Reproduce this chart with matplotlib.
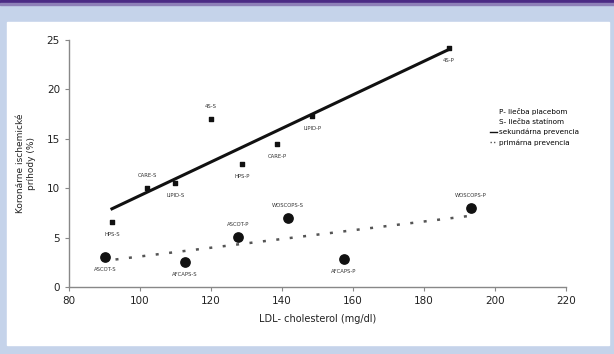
import numpy as np
import matplotlib
matplotlib.use('Agg')
import matplotlib.pyplot as plt
from matplotlib.lines import Line2D

# secondary prevention (small squares, solid trend)
sec_names = ['4S-P', '4S-S', 'LIPID-P', 'CARE-P', 'HPS-P', 'LIPID-S', 'CARE-S', 'HPS-S']
sec_ldl = [187, 120, 148.5, 138.6, 128.7, 109.9, 102, 92.1]
sec_events = [24.2, 17.0, 17.3, 14.5, 12.5, 10.5, 10.0, 6.6]
sec_pos = ['below', 'above', 'below', 'below', 'below', 'below', 'above', 'below']

# primary prevention (large dots, dotted trend)
pri_names = ['ASCOT-S', 'AFCAPS-S', 'ASCOT-P', 'WOSCOPS-S', 'AFCAPS-P', 'WOSCOPS-P']
pri_ldl = [90.1, 112.7, 127.6, 141.7, 157.5, 193.2]
pri_events = [3.0, 2.5, 5.1, 7.0, 2.8, 8.0]
pri_pos = ['below', 'below', 'above', 'above', 'below', 'above']

x_ticks = [80, 100, 120, 140, 160, 180, 200, 220]
y_ticks = [0, 5, 10, 15, 20, 25]

fig = plt.figure(figsize=(6.14, 3.54), dpi=100)
fig.patch.set_facecolor('#c5d3ea')

# white panel + purple top band
fig.add_artist(plt.Rectangle((7/614, 1-345/354), 602/614, 323/354,
                             transform=fig.transFigure, color='white', zorder=0))
fig.add_artist(plt.Rectangle((0, 1-3/354), 1, 3/354,
                             transform=fig.transFigure, color='#4b2a84', zorder=0))
fig.add_artist(plt.Rectangle((0, 1-5/354), 1, 2/354,
                             transform=fig.transFigure, color='#8e80b8', zorder=0))

ax = fig.add_axes([69/614, 1-287/354, 497/614, 247/354])
ax.set_facecolor('none')
for s in ['top', 'right']:
    ax.spines[s].set_visible(False)
for s in ['left', 'bottom']:
    ax.spines[s].set_color('#888888')
    ax.spines[s].set_linewidth(1.0)
ax.tick_params(colors='#888888', labelcolor='#222222', labelsize=7.5, length=3, width=0.8)
ax.set_xlim(80, 220)
ax.set_ylim(0, 25)
ax.set_xticks(x_ticks)
ax.set_yticks(y_ticks)

# trend lines
k, b = np.polyfit(sec_ldl, sec_events, 1)
xs = np.array([min(sec_ldl), max(sec_ldl)])
ax.plot(xs, k * xs + b, color='#111111', lw=2.2, zorder=2)
k2, b2 = np.polyfit(pri_ldl, pri_events, 1)
xp = np.array([min(pri_ldl) + 3, max(pri_ldl)])
ax.plot(xp, k2 * xp + b2, color='#555555', lw=1.8, linestyle=(0, (1.2, 4.2)), zorder=2)

ax.scatter(sec_ldl, sec_events, marker='s', s=12, color='#111111', zorder=3)
ax.scatter(pri_ldl, pri_events, marker='o', s=45, color='#111111', zorder=3)

for names, xv, yv, pos in [(sec_names, sec_ldl, sec_events, sec_pos),
                           (pri_names, pri_ldl, pri_events, pri_pos)]:
    for n, x, y, p in zip(names, xv, yv, pos):
        dy = 9 if p == 'above' else -9
        ax.annotate(n, (x, y), xytext=(0, dy), textcoords='offset points',
                    ha='center', va='center', fontsize=3.8, color='#333333')

ax.set_xlabel('LDL- cholesterol (mg/dl)', fontsize=7, color='#222222', labelpad=6)
ax.set_ylabel('Koronárne ischemické\npríhody (%)', fontsize=6.5, color='#222222', labelpad=8)

handles = [Line2D([], [], color='none'), Line2D([], [], color='none'),
           Line2D([], [], color='#111111', lw=1),
           Line2D([], [], color='#555555', lw=1, linestyle=(0, (1, 1.5)))]
labels = ['P- liečba placebom', 'S- liečba statínom',
          'sekundárna prevencia', 'primárna prevencia']
fig.legend(handles, labels, loc='upper left', bbox_to_anchor=(486/614, 1-104/354),
           frameon=False, fontsize=5.2, handlelength=1.0, handletextpad=0.3,
           labelspacing=0.55, borderpad=0)

fig.savefig('out.png', dpi=100)
